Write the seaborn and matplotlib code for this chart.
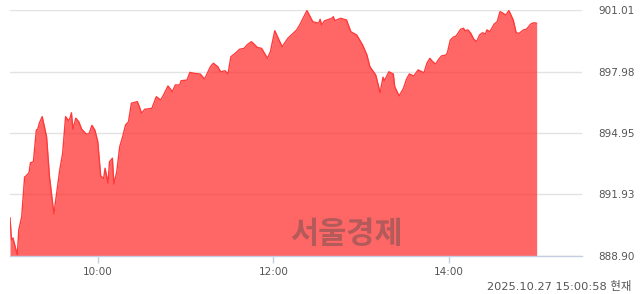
import matplotlib
matplotlib.use("Agg")
import matplotlib.pyplot as plt
import seaborn as sns
import pandas as pd

# minutes after 09:00
minutes = [0, 1, 2, 5, 6, 8, 10, 11, 13, 14, 16, 18, 19, 20, 22, 25, 27, 30, 34, 36,
           38, 40, 41, 42, 43, 45, 47, 49, 52, 54, 56, 58, 60, 62, 64, 65, 67, 68, 70, 71,
           73, 75, 77, 79, 81, 83, 87, 88, 90, 92, 97, 100, 103, 105, 108, 111, 113, 116, 117, 121,
           123, 126, 130, 133, 137, 139, 142, 144, 147, 149, 151, 154, 157, 160, 162, 165, 167, 169, 172, 176,
           178, 181, 186, 190, 196, 198, 203, 207, 211, 212, 213, 215, 220, 221, 222, 226, 230, 233, 237, 241,
           244, 246, 250, 253, 255, 256, 259, 262, 263, 266, 269, 271, 273, 276, 279, 283, 285, 287, 289, 291,
           293, 295, 298, 299, 301, 303, 305, 308, 310, 311, 313, 315, 317, 319, 321, 323, 325, 326, 328, 331,
           333, 335, 337, 339, 341, 344, 346, 348, 351, 353, 356, 358, 360]
values = [890.79, 889.69, 889.79, 888.95, 890.18, 890.83, 892.79, 892.84, 893.00, 893.49,
          893.54, 895.10, 895.14, 895.43, 895.76, 894.77, 892.80, 890.97, 893.13, 893.96,
          895.76, 895.56, 895.68, 895.95, 895.14, 895.68, 895.51, 895.14, 894.91, 894.91,
          895.33, 895.10, 894.53, 892.84, 892.72, 893.22, 892.48, 893.54, 893.71, 892.44,
          893.05, 894.28, 894.77, 895.35, 895.51, 896.42, 896.50, 896.33, 895.92, 896.12,
          896.17, 896.74, 896.58, 896.83, 897.27, 896.99, 897.32, 897.32, 897.53, 897.56,
          897.94, 897.89, 897.86, 897.61, 898.22, 898.39, 898.22, 897.97, 898.02, 897.86,
          898.71, 898.88, 899.08, 899.12, 899.29, 899.45, 899.32, 899.17, 899.12, 898.63,
          898.96, 899.99, 899.20, 899.62, 900.03, 900.27, 900.98, 900.43, 900.36, 900.55,
          900.27, 900.48, 900.60, 900.68, 900.48, 900.60, 900.52, 899.94, 899.78, 899.29,
          898.79, 898.22, 897.81, 896.94, 897.70, 897.53, 897.97, 897.86, 897.23, 896.78,
          897.16, 897.60, 897.86, 897.76, 898.06, 897.92, 898.39, 898.63, 898.46, 898.35,
          898.58, 898.75, 898.79, 898.91, 899.53, 899.67, 899.73, 900.06, 900.11, 899.99,
          900.03, 899.86, 899.57, 899.45, 899.78, 899.89, 899.83, 900.03, 899.94, 900.32,
          900.43, 900.93, 900.85, 900.76, 900.98, 900.52, 899.89, 899.86, 900.03, 900.06,
          900.32, 900.38, 900.36]

y_ticks = [888.90, 891.93, 894.95, 897.98, 901.01]
x_tick_pos = [60, 180, 300]
x_tick_labels = ["10:00", "12:00", "14:00"]
stamp = "2025.10.27 15:00:58 현재"
watermark = "서울경제"

df = pd.DataFrame({"minute": minutes, "value": values})

sns.set_theme(style="white")
plt.rcParams['font.family'] = ['DejaVu Sans', 'Noto Sans CJK KR']

fig = plt.figure(figsize=(6.4, 2.94), dpi=100)
ax = fig.add_axes([10 / 640, 1 - 256 / 294, 572 / 640, 246 / 294])

ymin, ymax = y_ticks[0], y_ticks[-1]
for t in y_ticks:
    ax.axhline(t, color="#e3e3e3", lw=1, zorder=0)

ax.fill_between(df["minute"], df["value"], ymin, color="#ff3333", alpha=0.75, lw=0, zorder=1)
sns.lineplot(data=df, x="minute", y="value", ax=ax, color="#ff3a3a", lw=1, zorder=2)

ax.set_xlim(0, 391)
ax.set_ylim(ymin, ymax)
ax.set_xlabel("")
ax.set_ylabel("")

ax.yaxis.tick_right()
ax.set_yticks(y_ticks)
ax.set_yticklabels([f"{t:.2f}" for t in y_ticks], fontsize=7.5, color="#555555")
ax.tick_params(axis="y", length=0, pad=12)

ax.set_xticks(x_tick_pos)
ax.set_xticklabels(x_tick_labels, fontsize=7.5, color="#555555")
ax.tick_params(axis="x", length=5, width=1, color="#c5cfe0", pad=3, bottom=True, direction="out")

for s in ["top", "left", "right"]:
    ax.spines[s].set_visible(False)
ax.spines["bottom"].set_color("#c5cfe0")
ax.spines["bottom"].set_linewidth(1)

ax.text(0.588, 0.088, watermark, transform=ax.transAxes, fontsize=22, fontweight="bold",
        color="#4a4a4a", alpha=0.42, ha="center", va="center", family=["Noto Sans CJK KR"], zorder=3)

fig.text(631 / 640, 1 - 286 / 294, stamp, fontsize=8.2, color="#555555", ha="right", va="center",
         family=["DejaVu Sans", "Noto Sans CJK KR"])

fig.savefig("out.png", dpi=100)
